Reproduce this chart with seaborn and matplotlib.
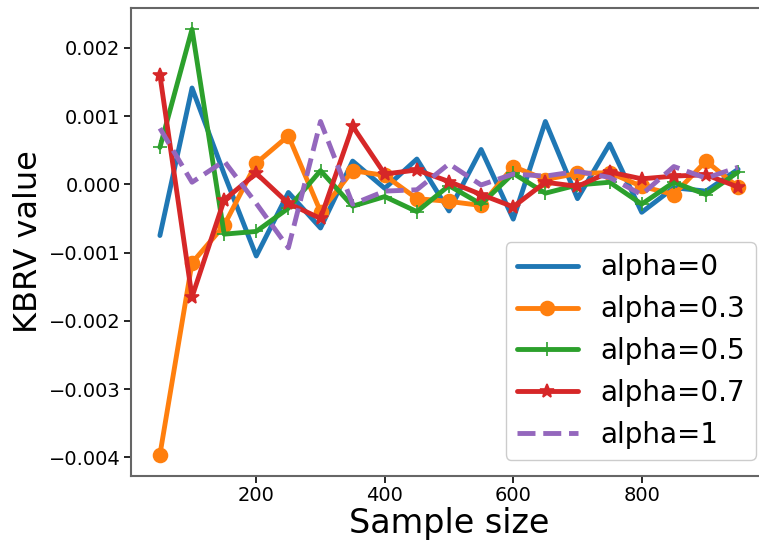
import matplotlib
matplotlib.use("Agg")
import matplotlib.pyplot as plt
import seaborn as sns
import pandas as pd

# Sample sizes on the x axis
sample_sizes = [50, 100, 150, 200, 250, 300, 350, 400, 450, 500,
                550, 600, 650, 700, 750, 800, 850, 900, 950]

# KBRV values, one list per alpha
kbrv_alpha_0 = [-0.00075, 0.00141, 0.00015, -0.00105, -0.00012, -0.00064, 0.00034, -0.00006, 0.00037, -0.00039,
                0.00051, -0.00051, 0.00092, -0.00021, 0.00059, -0.00041, -0.00005, -0.00010, 0.00022]
kbrv_alpha_03 = [-0.00396, -0.00115, -0.00060, 0.00031, 0.00071, -0.00040, 0.00020, 0.00013, -0.00021, -0.00025,
                 -0.00031, 0.00026, 0.00007, 0.00016, 0.00017, -0.00003, -0.00015, 0.00034, -0.00004]
kbrv_alpha_05 = [0.00054, 0.00227, -0.00073, -0.00069, -0.00035, 0.00020, -0.00032, -0.00018, -0.00040, -0.00002,
                 -0.00029, 0.00016, -0.00013, -0.00001, 0.00003, -0.00029, 0.00003, -0.00015, 0.00018]
kbrv_alpha_07 = [0.00160, -0.00165, -0.00023, 0.00016, -0.00028, -0.00050, 0.00085, 0.00015, 0.00021, 0.00004,
                 -0.00015, -0.00033, 0.00003, -0.00003, 0.00018, 0.00008, 0.00012, 0.00014, -0.00004]
kbrv_alpha_1 = [0.00082, 0.00003, 0.00034, -0.00028, -0.00093, 0.00092, -0.00029, -0.00010, -0.00008, 0.00030,
                -0.00001, 0.00015, 0.00012, 0.00019, 0.00010, -0.00015, 0.00026, 0.00009, 0.00025]

series_labels = ["alpha=0", "alpha=0.3", "alpha=0.5", "alpha=0.7", "alpha=1"]
series_values = [kbrv_alpha_0, kbrv_alpha_03, kbrv_alpha_05, kbrv_alpha_07, kbrv_alpha_1]

colors = ["#1f77b4", "#ff7f0e", "#2ca02c", "#d62728", "#9467bd"]
markers = [None, "o", "+", "*", None]
linestyles = ["-", "-", "-", "-", "--"]

sns.set_style("ticks")
plt.rcParams["font.family"] = ["DejaVu Sans"]
plt.rcParams["text.color"] = "black"
plt.rcParams["axes.labelcolor"] = "black"
plt.rcParams["xtick.color"] = "black"
plt.rcParams["ytick.color"] = "black"

fig = plt.figure(figsize=(7.59, 5.41), dpi=100)
ax = fig.add_axes([131 / 759, 1 - 476 / 541, 636 / 759, 468 / 541])

for label, vals, color, marker, ls in zip(series_labels, series_values, colors, markers, linestyles):
    df = pd.DataFrame({"size": sample_sizes, "kbrv": vals})
    sns.lineplot(data=df, x="size", y="kbrv", ax=ax, color=color, marker=marker,
                 linestyle=ls, linewidth=3.5, markersize=10, markeredgecolor=color,
                 markeredgewidth=1.2, label=label)

ax.set_xlabel("Sample size", fontsize=24, labelpad=1)
ax.set_ylabel("KBRV value", fontsize=23)
ax.yaxis.set_label_coords(-(131 - 44) / 636, 0.5)
ax.tick_params(axis="both", labelsize=14, length=5, width=1.2, pad=2.5)
for side in ["left", "right", "top", "bottom"]:
    ax.spines[side].set_color("0.4")
    ax.spines[side].set_linewidth(1.5)

ax.legend(loc="lower right", fontsize=20, handlelength=2.2, framealpha=1,
          borderaxespad=0, bbox_to_anchor=((756 - 131) / 636, (476 - 460) / 468))

fig.savefig("out.png", dpi=100)
